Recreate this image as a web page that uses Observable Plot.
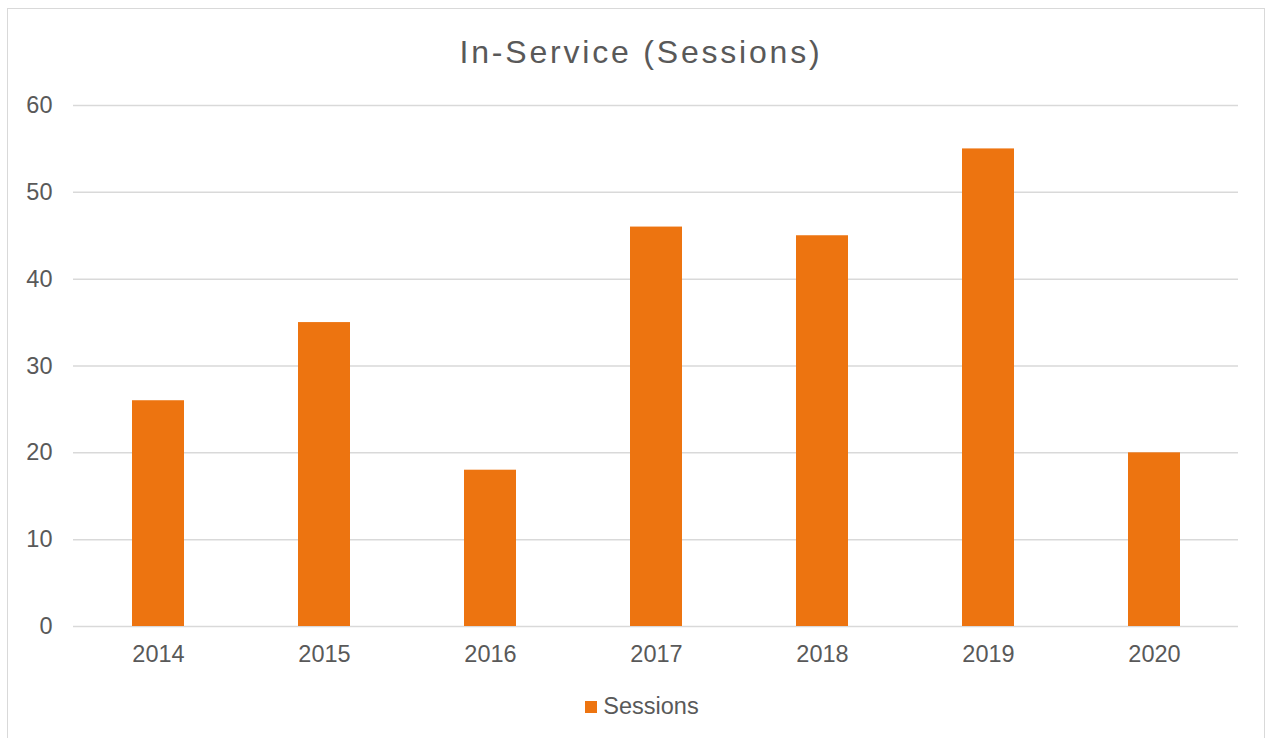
<!DOCTYPE html>
<html>
<head>
<meta charset="utf-8">
<script src="https://cdn.jsdelivr.net/npm/d3@7"></script>
<script src="https://cdn.jsdelivr.net/npm/@observablehq/plot@0.6"></script>
<style>
  html, body { margin: 0; padding: 0; background: #fff; }
  #wrap { position: relative; width: 1267px; height: 738px; overflow: hidden; font-family: "Liberation Sans", Arial, sans-serif; }
  #frame { position: absolute; left: 7px; top: 8px; width: 1258px; height: 760px; border: 1px solid #D9D9D9; box-sizing: border-box; }
  #title { position: absolute; left: 0; width: 1282px; top: 30px; text-align: center; font-size: 32px; letter-spacing: 2.8px; color: #595959; line-height: 44px; }
  #chart { position: absolute; left: 0; top: 0; }
  #legend { position: absolute; top: 693px; left: 0; width: 1284px; text-align: center; font-size: 23.5px; color: #595959; line-height: 26px; }
  #legend .sw { display: inline-block; width: 12px; height: 12px; background: #ED7410; margin-right: 6px; vertical-align: 1px; }
</style>
</head>
<body>
<div id="wrap">
  <div id="frame"></div>
  <div id="title">In-Service (Sessions)</div>
  <div id="chart"></div>
  <div id="legend"><span class="sw"></span>Sessions</div>
</div>
<script>
const years = ["2014", "2015", "2016", "2017", "2018", "2019", "2020"];
const sessions = [26, 35, 18, 46, 45, 55, 20];
const yTicks = [0, 10, 20, 30, 40, 50, 60];

const data = years.map((y, i) => ({year: y, value: sessions[i]}));

const plot = Plot.plot({
  width: 1267,
  height: 738,
  marginLeft: 73,
  marginRight: 29,
  marginTop: 105,
  marginBottom: 112,
  style: {fontFamily: "'Liberation Sans', Arial, sans-serif", fontSize: "23.5px", color: "#595959", background: "transparent"},
  x: {domain: years, paddingInner: 0.6875, paddingOuter: 0.34375, align: 0.5, label: null},
  y: {domain: [0, 60], label: null},
  marks: [
    Plot.ruleY(yTicks, {stroke: "#D9D9D9", strokeWidth: 1.5}),
    Plot.barY(data, {x: "year", y: "value", fill: "#ED7410"}),
    Plot.axisX({tickSize: 0, tickPadding: 19, label: null, fill: "#595959"}),
    Plot.axisY({ticks: yTicks, tickSize: 0, tickPadding: 21, label: null, fill: "#595959"})
  ]
});
document.getElementById("chart").appendChild(plot);
</script>
</body>
</html>
